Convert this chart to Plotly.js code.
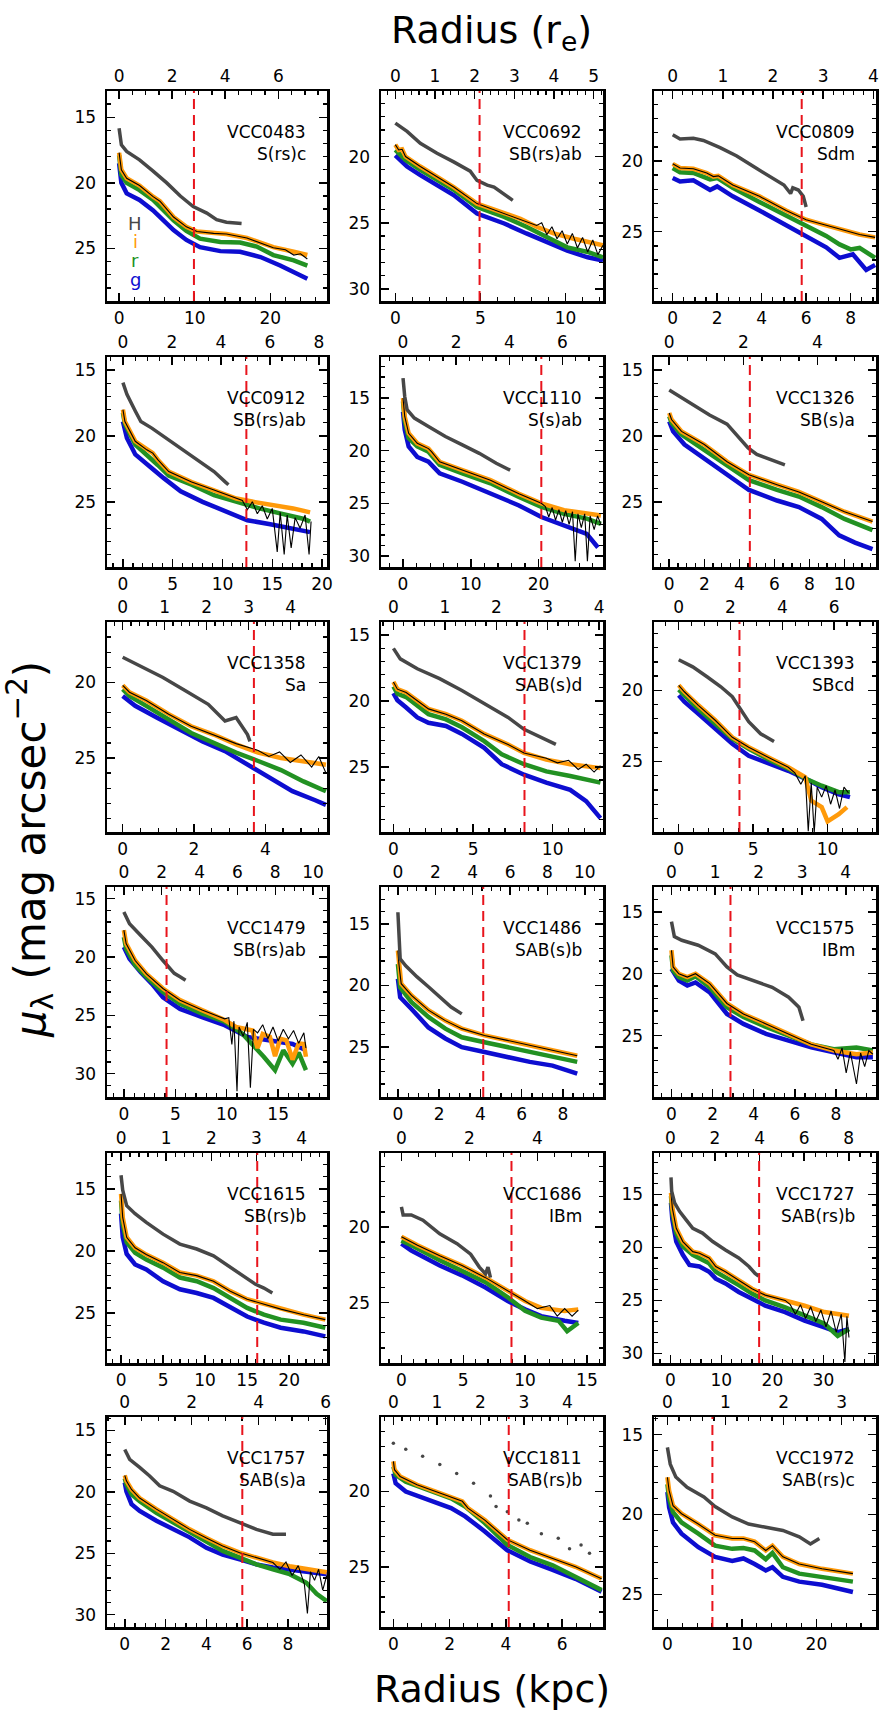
<!DOCTYPE html>
<html><head><meta charset="utf-8">
<script src="https://cdn.plot.ly/plotly-3.0.1.min.js"></script>
<style>html,body{margin:0;padding:0;background:#fff}#chart{width:883px;height:1710px}</style>
</head><body><div id="chart"></div>
<script>
// ---------- DATA (radius in kpc, surface brightness in mag arcsec^-2) ----------
const galaxies = ['VCC0483','VCC0692','VCC0809','VCC0912','VCC1110','VCC1326','VCC1358','VCC1379','VCC1393','VCC1479','VCC1486','VCC1575','VCC1615','VCC1686','VCC1727','VCC1757','VCC1811','VCC1972'];
const types = ['S(rs)c','SB(rs)ab','Sdm','SB(rs)ab','S(s)ab','SB(s)a','Sa','SAB(s)d','SBcd','SB(rs)ab','SAB(s)b','IBm','SB(rs)b','IBm','SAB(rs)b','SAB(s)a','SAB(rs)b','SAB(rs)c'];
const kpcRange = [[-1.6,27.5],[-0.84,12.2],[-0.84,9.14],[-1.6,20.5],[-3.25,29.5],[-0.87,11.8],[-0.44,5.73],[-0.78,13.16],[-1.66,13.25],[-1.64,19.75],[-0.82,9.95],[-0.85,9.95],[-1.67,24.5],[-1.65,16.3],[-3.2,40.3],[-0.87,9.91],[-0.44,7.45],[-1.8,28.0]];
const kpcPerRe = [3.51,2.33,2.255,2.46,3.92,2.115,1.177,3.23,1.74,1.84,0.907,2.12,5.37,2.75,4.37,1.64,1.546,7.8];
const magRange = [[29,13],[30.9,15.05],[29.9,15.05],[29.95,14.0],[31.05,11.1],[29.95,14.0],[29.9,16.0],[29.95,14.0],[29.95,15.2],[32,14],[29.05,12.0],[29.95,13.0],[29.05,12.1],[29.0,15.1],[30.9,11.1],[31.0,13.9],[29.0,15.05],[27.04,13.9]];
const redLineKpc = [9.9,4.95,5.8,12.4,20.4,4.6,3.68,8.23,4.08,4.15,4.14,2.87,16.2,8.9,17.4,5.76,4.1,6.04];
const kpcTickStep = [10,5,2,5,10,2,2,5,5,5,2,2,5,5,10,2,2,10];
const reTickStep = [2,1,1,2,2,2,1,1,2,2,2,1,1,2,2,2,1,1];
const bandLabels = ['H','i','r','g'];

const VCC0483_H=[[0,15.84],[0.3,17.1],[1.0,17.6],[2.7,18.25],[4.5,19.1],[6.3,20.0],[8.1,21.0],[9.8,21.8],[11.6,22.3],[12.9,22.8],[14.2,23.0],[16.2,23.1]];
const VCC0483_i=[[0,17.7],[0.3,19.0],[1.0,19.65],[2.7,20.2],[4.5,21.05],[5.4,21.4],[7.2,22.6],[8.9,23.35],[10.3,23.7],[12.5,23.85],[14.2,23.9],[16.9,24.2],[20.4,24.9],[23.1,25.25],[24.9,25.5]];
const VCC0483_k=[[0,17.7],[0.3,19.0],[1.0,19.65],[2.7,20.2],[4.5,21.05],[5.4,21.4],[7.2,22.6],[8.9,23.35],[10.3,23.7],[12.5,23.85],[14.2,23.9],[16.9,24.2],[20.4,24.95],[22,25.1],[23.1,25.5],[24,25.4],[24.9,25.8]];
const VCC0483_r=[[0,17.9],[0.3,19.4],[1,20.0],[2.7,20.55],[4.5,21.3],[7.2,22.85],[8.9,23.65],[10.7,24.25],[13.4,24.5],[16,24.55],[18.2,24.85],[20.4,25.5],[23.1,25.9],[24.9,26.3]];
const VCC0483_g=[[0,18.5],[0.3,20.0],[1,20.8],[2.7,21.3],[4.5,22.1],[7.2,23.6],[8.9,24.35],[10.7,24.9],[13.4,25.2],[16,25.25],[18.7,25.65],[21.3,26.3],[24.9,27.3]];

const VCC0692_H=[[0,17.47],[0.69,18.1],[1.47,19.0],[2.45,19.75],[3.43,20.4],[4.4,21.1],[4.8,21.8],[5.4,22.15],[5.8,22.3],[6.2,22.65],[6.9,23.3]];
const VCC0692_i=[[0,19.1],[0.2,19.5],[0.4,19.45],[0.6,20.0],[1.47,20.75],[2.45,21.5],[3.43,22.3],[4.8,23.55],[6.4,24.3],[7.35,24.7],[8.3,25.3],[9.3,25.8],[10.5,26.2],[11.3,26.45],[12.2,26.7]];
const VCC0692_k=[[0,19.1],[0.2,19.5],[0.4,19.45],[0.6,20.0],[1.47,20.75],[2.45,21.5],[3.43,22.3],[4.8,23.55],[6.4,24.3],[7.35,24.7],[8.3,25.2],[8.6,25.0],[8.9,25.9],[9.2,25.3],[9.5,26.2],[9.8,25.6],[10.1,26.6],[10.4,25.8],[10.7,26.9],[11.0,26.1],[11.3,27.2],[11.6,26.3],[11.9,27.4],[12.2,26.7]];
const VCC0692_r=[[0,19.5],[0.6,20.25],[1.47,21.0],[2.45,21.8],[3.43,22.5],[4.8,23.8],[6.4,24.55],[7.7,25.3],[8.9,26.1],[10.1,26.85],[11.3,27.2],[12.2,27.6]];
const VCC0692_g=[[0,19.9],[0.69,20.75],[1.47,21.4],[2.45,22.15],[3.43,22.9],[4.8,24.3],[6.4,25.05],[7.7,25.8],[8.9,26.45],[10.1,27.1],[11.3,27.6],[12.2,27.85]];

const VCC0809_H=[[0,18.15],[0.33,18.44],[0.93,18.4],[1.38,18.55],[2.13,19.05],[2.88,19.64],[3.6,20.36],[4.4,21.1],[5.0,21.7],[5.3,22.3],[5.4,21.9],[5.65,22.05],[5.87,22.5],[6.0,23.25]];
const VCC0809_i=[[0,20.2],[0.33,20.5],[0.93,20.55],[1.53,20.85],[1.83,21.1],[2.05,21.05],[2.7,21.7],[3.9,22.5],[5.1,23.5],[6.0,24.15],[6.9,24.55],[7.7,24.9],[8.4,25.2],[9.1,25.4]];
const VCC0809_k=VCC0809_i;
const VCC0809_r=[[0,20.5],[0.33,20.8],[0.93,20.85],[1.68,21.3],[2.0,21.2],[2.7,21.9],[3.9,22.9],[5.1,23.85],[6.0,24.6],[6.9,25.3],[7.5,25.9],[8.0,26.25],[8.4,26.15],[9.1,26.85]];
const VCC0809_g=[[0,21.2],[0.33,21.45],[0.93,21.37],[1.68,22.05],[2.0,21.8],[2.7,22.5],[3.9,23.5],[5.1,24.55],[6.0,25.3],[6.9,26.1],[7.5,26.85],[8.1,26.6],[8.7,27.7],[9.1,27.35]];

const VCC0912_H=[[0,15.95],[0.4,16.84],[1.24,18.1],[1.8,18.9],[2.9,19.4],[4.6,20.3],[6.3,21.2],[8.0,22.1],[9.15,22.7],[10.3,23.5],[10.6,23.7]];
const VCC0912_i=[[0,18.0],[0.2,18.9],[1.24,20.4],[2.4,21.05],[3.0,21.3],[3.5,21.8],[4.6,22.7],[6.9,23.5],[9.15,24.1],[11.4,24.75],[13.1,25.0],[15.4,25.25],[17.1,25.5],[18.8,25.8]];
const VCC0912_k=[[0,18.0],[0.2,18.9],[1.24,20.4],[2.4,21.05],[3.0,21.3],[3.5,21.8],[4.6,22.7],[6.9,23.5],[9.15,24.1],[11.4,24.75],[12,24.9],[12.5,25.6],[13,25.0],[13.5,25.9],[14,25.3],[14.5,26.3],[15,25.5],[15.5,28.8],[15.8,25.8],[16.2,29.0],[16.5,26.0],[16.9,28.5],[17.3,26.2],[17.8,27.0],[18.3,26.0],[18.7,29.0],[18.9,26.5]];
const VCC0912_r=[[0,18.25],[0.2,19.1],[1.24,20.65],[2.4,21.4],[2.9,21.8],[3.5,22.2],[4.6,23.0],[6.9,23.7],[9.15,24.5],[11.4,25.0],[13.7,25.5],[15.9,25.9],[18.2,26.3],[18.8,26.5]];
const VCC0912_g=[[0,18.9],[0.4,20.15],[1.24,21.4],[2.4,22.2],[2.9,22.45],[4.1,23.2],[5.8,24.2],[8.0,25.0],[10.3,25.75],[12.5,26.4],[14.8,26.7],[17.1,27.0],[18.8,27.3]];

const VCC1110_H=[[0,13.1],[0.25,14.85],[0.6,16.1],[1.67,16.9],[3.75,17.7],[6.25,18.65],[8.75,19.45],[11.25,20.25],[13.75,21.2],[15.8,21.85]];
const VCC1110_i=[[0,15.0],[0.25,16.75],[0.83,18.35],[2.1,19.3],[3.75,19.8],[4.2,20.1],[5.4,21.05],[8.75,21.85],[12.9,22.8],[17.1,24.1],[20.4,25.0],[23.75,25.65],[27.1,26.0],[29.2,26.15]];
const VCC1110_k=[[0,15.0],[0.25,16.75],[0.83,18.35],[2.1,19.3],[3.75,19.8],[4.2,20.1],[5.4,21.05],[8.75,21.85],[12.9,22.8],[17.1,24.1],[20.4,25.0],[21,25.3],[21.5,26.3],[22,25.4],[22.5,26.6],[23,25.6],[23.5,26.8],[24,25.7],[24.5,27.0],[25,25.8],[25.4,30.5],[25.8,26.0],[26.3,27.3],[26.8,26.0],[27.2,30.5],[27.6,26.2],[28.2,27.5],[28.7,26.2],[29.2,27.0]];
const VCC1110_r=[[0,15.3],[0.25,17.2],[0.83,18.8],[2.1,19.6],[3.75,20.1],[5.4,21.35],[8.75,22.15],[12.9,23.1],[17.1,24.4],[20.4,25.35],[23.75,26.0],[27.1,26.45],[29.2,26.95]];
const VCC1110_g=[[0,16.3],[0.25,18.0],[0.83,19.6],[2.1,20.6],[3.75,21.05],[5.4,22.15],[8.75,22.95],[12.9,24.05],[17.1,25.2],[20.4,26.3],[23.75,27.1],[27.1,27.9],[28.75,29.2]];

const VCC1326_H=[[0,16.5],[1.0,17.35],[2.3,18.4],[3.3,19.1],[3.9,20.0],[4.5,20.9],[5.0,21.4],[5.8,21.8],[6.6,22.2]];
const VCC1326_i=[[0,18.25],[0.13,18.75],[0.7,19.65],[2.0,20.65],[3.3,21.95],[4.55,22.95],[6.15,23.7],[7.4,24.25],[8.7,25.0],[10.0,25.75],[11.6,26.5]];
const VCC1326_k=VCC1326_i;
const VCC1326_r=[[0,18.5],[0.13,19.0],[0.7,19.9],[2.0,21.05],[3.3,22.3],[4.55,23.35],[6.15,24.1],[7.4,24.6],[8.7,25.4],[10.0,26.3],[11.6,27.15]];
const VCC1326_g=[[0,18.9],[0.22,19.65],[0.87,20.65],[2.0,21.7],[3.3,22.95],[4.55,24.1],[6.15,24.9],[7.4,25.4],[8.7,26.3],[9.7,27.55],[10.6,28.1],[11.6,28.6]];

const VCC1358_H=[[0,18.33],[0.5,18.9],[1.13,19.67],[1.76,20.55],[2.4,21.45],[2.87,22.55],[3.18,22.33],[3.5,23.45],[3.57,23.9]];
const VCC1358_i=[[0,20.2],[0.19,20.65],[0.66,21.2],[1.29,22.1],[1.92,22.9],[2.55,23.45],[3.18,24.1],[3.8,24.65],[4.44,25.0],[5.07,25.2],[5.7,25.45]];
const VCC1358_k=[[0,20.2],[0.19,20.65],[0.66,21.2],[1.29,22.1],[1.92,22.9],[2.55,23.45],[3.18,24.05],[3.8,24.5],[4.1,24.9],[4.4,24.6],[4.7,25.3],[5.0,24.8],[5.3,25.6],[5.5,24.9],[5.7,26.0]];
const VCC1358_r=[[0,20.45],[0.19,20.9],[0.66,21.55],[1.29,22.45],[1.92,23.35],[2.55,24.0],[3.18,24.65],[3.8,25.2],[4.44,25.8],[5.07,26.55],[5.7,27.2]];
const VCC1358_g=[[0,20.9],[0.35,21.55],[0.98,22.35],[1.6,23.1],[2.24,23.9],[2.87,24.55],[3.5,25.45],[4.13,26.35],[4.76,27.2],[5.4,27.8],[5.7,28.1]];

const VCC1379_H=[[0,16.0],[0.43,16.8],[1.5,17.55],[2.9,18.3],[4.3,19.2],[5.7,20.2],[7.2,21.25],[8.2,22.15],[9.3,22.8],[10.2,23.3]];
const VCC1379_i=[[0,18.55],[0.25,19.1],[0.8,19.35],[1.5,20.0],[2.2,20.6],[3.3,21.0],[4.3,21.5],[5.7,22.5],[7.2,23.3],[8.2,23.95],[9.6,24.45],[11.1,24.8],[13.0,25.1]];
const VCC1379_k=[[0,18.55],[0.25,19.1],[0.8,19.35],[1.5,20.0],[2.2,20.6],[3.3,21.0],[4.3,21.5],[5.7,22.5],[7.2,23.3],[8.2,23.95],[9.6,24.35],[10.3,24.7],[11.0,24.5],[11.6,25.2],[12.1,24.8],[12.6,25.4],[13.0,24.9]];
const VCC1379_r=[[0,18.9],[0.25,19.45],[0.8,19.7],[1.5,20.35],[2.2,21.0],[3.3,21.4],[4.3,22.0],[5.7,23.05],[6.8,24.05],[8.2,24.8],[9.6,25.35],[11.1,25.7],[13.0,26.2]];
const VCC1379_g=[[0,19.4],[0.25,19.95],[0.8,20.5],[1.5,21.25],[2.2,21.65],[3.3,21.9],[4.3,22.5],[5.7,23.55],[6.8,24.8],[8.2,25.6],[9.6,26.2],[11.1,26.75],[12.1,27.6],[13.0,28.9]];

const VCC1393_H=[[0,17.85],[0.94,18.35],[1.9,19.05],[2.83,19.75],[3.6,20.45],[4.34,21.65],[4.7,22.2],[5.5,23.05],[6.4,23.6]];
const VCC1393_i=[[0,19.65],[0.38,20.1],[1.32,21.05],[2.45,22.1],[3.6,23.3],[4.7,24.0],[6.2,24.8],[7.36,25.4],[8.5,26.1],[8.9,27.75],[9.6,28.2],[10.0,29.2],[10.75,28.7],[11.3,28.2]];
const VCC1393_k=[[0,19.65],[0.38,20.1],[1.32,21.05],[2.45,22.1],[3.6,23.3],[4.7,24.0],[6.2,24.8],[7.36,25.4],[7.8,25.8],[8.2,26.6],[8.5,26.0],[8.7,29.9],[8.9,26.5],[9.1,30.0],[9.3,26.8],[9.6,27.5],[9.9,26.7],[10.2,28.0],[10.5,27.0],[10.8,28.3],[11.1,26.8],[11.4,27.2]];
const VCC1393_r=[[0,19.95],[0.38,20.35],[1.32,21.3],[2.45,22.35],[3.6,23.4],[4.7,24.1],[6.2,24.95],[7.36,25.5],[8.5,26.2],[9.6,26.7],[10.75,27.15],[11.5,27.15]];
const VCC1393_g=[[0,20.35],[0.38,20.8],[1.32,21.65],[2.45,22.7],[3.6,23.75],[4.7,24.6],[6.2,25.15],[7.36,25.65],[8.5,26.2],[9.6,26.8],[10.75,27.3],[11.5,27.5]];

const VCC1479_H=[[0,16.15],[0.55,17.15],[1.64,18.15],[2.73,19.15],[3.8,20.3],[4.36,20.85],[4.9,21.4],[5.46,21.7],[6.0,22.0]];
const VCC1479_i=[[0,17.7],[0.22,18.85],[1.1,20.3],[2.2,21.45],[3.8,22.7],[5.46,23.7],[7.6,24.55],[9.8,25.4],[10.9,26.0],[12.5,26.3],[13.0,27.8],[13.5,26.6],[14.2,26.85],[14.7,28.5],[15.2,27.0],[15.8,27.15],[16.4,28.8],[17.0,27.4],[17.5,27.45],[17.7,28.55]];
const VCC1479_k=[[0,17.7],[0.22,18.85],[1.1,20.3],[2.2,21.45],[3.8,22.7],[5.46,23.7],[7.6,24.55],[9.8,25.3],[10.2,25.2],[10.5,27.5],[10.7,25.5],[11.0,31.5],[11.2,26.0],[11.6,26.8],[12.0,25.6],[12.3,31.2],[12.6,26.2],[13.0,26.5],[13.5,25.8],[14.0,27.0],[14.5,26.0],[15.0,27.2],[15.5,26.2],[16.0,27.0],[16.5,26.3],[17.0,27.4],[17.5,26.5],[17.7,27.8]];
const VCC1479_r=[[0,18.3],[0.22,19.3],[1.1,20.7],[2.2,21.7],[3.8,23.0],[5.46,24.0],[7.6,24.85],[9.8,25.55],[11.5,26.55],[12.5,27.45],[13.6,28.55],[14.7,29.7],[15.5,28.0],[16.4,29.15],[17.0,28.2],[17.7,29.7]];
const VCC1479_g=[[0,19.15],[0.55,20.15],[1.64,21.3],[2.73,22.3],[3.8,23.45],[5.46,24.45],[7.6,25.15],[9.8,25.85],[12.0,26.85],[14.2,27.15],[16.4,27.45],[17.7,28.0]];

const VCC1486_H=[[0,14.05],[0.05,15.54],[0.11,17.84],[0.38,18.4],[0.93,19.3],[1.48,20.1],[2.03,20.95],[2.58,21.75],[3.1,22.3]];
const VCC1486_i=[[0,17.15],[0.05,18.25],[0.16,19.85],[0.66,20.8],[1.48,22.0],[2.3,22.85],[3.1,23.5],[4.2,24.05],[5.3,24.45],[6.4,24.85],[7.5,25.25],[8.7,25.7]];
const VCC1486_k=VCC1486_i;
const VCC1486_r=[[0,18.25],[0.11,20.15],[0.66,21.35],[1.48,22.55],[2.3,23.5],[3.1,24.2],[4.2,24.6],[5.3,25.0],[6.4,25.4],[7.5,25.8],[8.7,26.2]];
const VCC1486_g=[[0,19.45],[0.11,20.95],[0.66,21.9],[1.48,23.4],[2.3,24.3],[3.1,25.0],[4.2,25.4],[5.3,25.8],[6.4,26.2],[7.5,26.5],[8.7,27.15]];

const VCC1575_H=[[0,15.8],[0.14,17.0],[0.5,17.3],[1.3,17.7],[2.13,18.4],[2.7,19.45],[3.2,20.1],[4.0,20.55],[4.9,21.1],[5.7,21.9],[6.2,22.7],[6.4,23.8]];
const VCC1575_i=[[0,18.1],[0.08,19.45],[0.36,20.0],[0.77,20.27],[1.17,20.0],[1.86,20.8],[2.7,22.4],[3.5,23.25],[4.6,24.05],[5.7,24.85],[6.8,25.7],[7.9,26.2],[9.0,26.5],[9.8,26.35]];
const VCC1575_k=[[0,18.1],[0.08,19.45],[0.36,20.0],[0.77,20.27],[1.17,20.0],[1.86,20.8],[2.7,22.4],[3.5,23.25],[4.6,24.05],[5.7,24.85],[6.8,25.7],[7.9,26.2],[8.1,26.9],[8.3,26.0],[8.5,28.0],[8.7,26.3],[9.0,28.9],[9.2,26.4],[9.4,27.5],[9.6,26.2],[9.8,26.5]];
const VCC1575_r=[[0,18.5],[0.08,19.75],[0.36,20.27],[0.77,20.55],[1.17,20.2],[1.86,21.1],[2.7,22.7],[3.5,23.5],[4.6,24.3],[5.7,25.0],[6.8,25.7],[7.9,26.1],[9.0,25.95],[9.8,26.2]];
const VCC1575_g=[[0,19.6],[0.36,20.55],[0.77,20.95],[1.17,20.7],[1.86,21.5],[2.7,23.25],[3.5,24.05],[4.6,24.85],[5.7,25.4],[6.8,25.95],[7.9,26.35],[9.0,26.75],[9.8,26.75]];

const VCC1615_H=[[0,13.9],[0.2,15.1],[0.67,16.35],[1.67,17.0],[3.0,17.7],[5.0,18.65],[7.0,19.45],[9.0,19.85],[11.0,20.4],[13.0,21.35],[15.0,22.3],[16.0,22.7],[17.0,23.0],[18.0,23.4]];
const VCC1615_i=[[0,15.4],[0.2,17.3],[0.67,18.9],[1.67,19.75],[3.0,20.3],[5.0,20.95],[7.0,21.75],[9.0,22.0],[11.0,22.45],[13.0,23.25],[15.0,23.9],[17.0,24.3],[19.0,24.7],[21.7,25.15],[24.3,25.55]];
const VCC1615_k=VCC1615_i;
const VCC1615_r=[[0,15.95],[0.2,17.85],[0.67,19.3],[1.67,20.15],[3.0,20.7],[5.0,21.35],[7.0,22.15],[9.0,22.45],[11.0,23.0],[13.0,23.8],[15.0,24.6],[17.0,25.15],[19.0,25.55],[21.7,25.8],[24.3,26.2]];
const VCC1615_g=[[0,17.0],[0.2,18.9],[0.67,20.25],[1.67,21.1],[3.0,21.5],[5.0,22.45],[7.0,23.1],[9.0,23.4],[11.0,23.8],[13.0,24.6],[15.0,25.3],[17.0,25.8],[19.0,26.2],[21.7,26.5],[24.3,26.9]];

const VCC1686_H=[[0,18.67],[0.14,19.2],[0.8,19.2],[1.74,19.55],[3.1,20.45],[4.5,21.1],[5.6,21.8],[6.3,22.65],[6.8,23.1],[7.0,22.65],[7.2,23.35]];
const VCC1686_i=[[0,20.65],[0.8,21.0],[1.3,21.2],[3.1,21.9],[4.9,22.55],[6.8,23.35],[8.6,24.2],[10.0,24.9],[11.3,25.35],[13.2,25.55],[14.3,25.45]];
const VCC1686_k=[[0,20.65],[0.8,21.0],[1.3,21.2],[3.1,21.9],[4.9,22.55],[6.8,23.35],[8.6,24.2],[10.0,24.9],[11,25.4],[12,25.2],[12.6,25.9],[13.2,25.4],[13.8,25.9],[14.3,25.5]];
const VCC1686_r=[[0,20.9],[0.8,21.2],[3.1,22.2],[4.9,22.9],[6.8,23.65],[8.6,24.65],[10.0,25.55],[11.3,26.0],[12.7,26.2],[13.4,26.9],[14.3,26.35]];
const VCC1686_g=[[0,21.1],[0.8,21.55],[3.1,22.55],[4.9,23.2],[6.8,24.0],[8.6,24.9],[10.0,25.45],[11.3,25.9],[13.2,26.2],[14.3,26.35]];

const VCC1727_H=[[0.13,13.4],[0.26,14.7],[0.84,15.8],[1.8,16.6],[3.1,17.4],[4.4,18.2],[6.3,18.65],[8.3,19.45],[10.8,20.25],[13.4,21.0],[15.4,21.8],[16.6,22.45],[17.3,22.7]];
const VCC1727_i=[[0.13,14.85],[0.4,16.3],[1.16,18.2],[2.45,19.45],[4.4,20.4],[5.7,20.55],[7.6,21.0],[8.9,21.8],[10.8,22.3],[13.4,23.1],[16.0,23.9],[18.6,24.5],[22.5,25.0],[26.3,25.5],[30.2,26.1],[32.8,26.3],[35.0,26.45]];
const VCC1727_k=[[0.13,14.85],[0.4,16.3],[1.16,18.2],[2.45,19.45],[4.4,20.4],[5.7,20.55],[7.6,21.0],[8.9,21.8],[10.8,22.3],[13.4,23.1],[16.0,23.9],[18.6,24.5],[22.5,25.0],[23.5,25.4],[24.5,26.3],[25.5,25.4],[26.5,26.7],[27.5,25.6],[28.5,27.0],[29.5,25.9],[30.5,27.5],[31.5,26.0],[32.5,28.0],[33.5,26.3],[34.2,30.8],[34.6,26.5],[35.0,28.5]];
const VCC1727_r=[[0.13,15.15],[0.4,16.75],[1.16,18.65],[2.45,19.9],[4.4,20.7],[5.7,21.0],[7.6,21.5],[8.9,22.3],[10.8,22.8],[13.4,23.55],[16.0,24.35],[18.6,25.0],[22.5,25.65],[26.3,26.45],[30.2,27.2],[32.8,28.35],[35.0,27.7]];
const VCC1727_g=[[0.13,15.8],[0.4,17.4],[1.16,19.45],[2.45,20.7],[3.75,21.65],[5.7,21.8],[7.6,22.3],[8.9,22.95],[10.8,23.4],[13.4,24.2],[16.0,24.85],[18.6,25.5],[22.5,26.1],[26.3,26.9],[30.2,27.55],[32.8,28.0],[35.0,27.7]];

const VCC1757_H=[[0,16.55],[0.24,17.35],[0.73,18.0],[1.22,18.7],[1.71,19.5],[2.37,19.95],[3.18,20.75],[4.0,21.3],[4.8,21.95],[5.63,22.5],[6.45,23.05],[7.26,23.45],[7.9,23.45]];
const VCC1757_i=[[0,18.65],[0.08,19.1],[0.33,19.8],[0.73,20.5],[1.55,21.4],[2.37,22.25],[3.18,23.05],[4.0,23.75],[4.8,24.4],[5.63,24.95],[6.45,25.35],[7.26,25.75],[8.08,26.05],[8.9,26.3],[9.9,26.55]];
const VCC1757_k=[[0,18.65],[0.08,19.1],[0.33,19.8],[0.73,20.5],[1.55,21.4],[2.37,22.25],[3.18,23.05],[4.0,23.75],[4.8,24.4],[5.63,24.95],[6.45,25.35],[7.26,25.75],[7.6,26.3],[7.9,25.7],[8.2,26.8],[8.5,26.0],[8.8,27.5],[8.95,29.9],[9.1,26.5],[9.3,27.2],[9.5,26.3],[9.7,28.0],[9.9,26.8]];
const VCC1757_r=[[0,18.9],[0.08,19.4],[0.33,20.2],[0.73,20.75],[1.55,21.7],[2.37,22.5],[3.18,23.3],[4.0,24.1],[4.8,24.8],[5.63,25.35],[6.45,25.9],[7.26,26.3],[8.08,26.7],[8.9,27.4],[9.4,28.3],[9.9,28.9]];
const VCC1757_g=[[0,19.25],[0.08,19.95],[0.33,21.0],[0.73,21.55],[1.55,22.35],[2.37,23.05],[3.18,23.7],[4.0,24.55],[4.8,25.1],[5.63,25.5],[6.45,25.9],[7.26,26.15],[8.08,26.3],[8.9,26.45],[9.9,26.7]];

const VCC1811_H=[[0,16.8],[0.44,17.2],[1.04,17.65],[1.65,18.2],[2.25,18.8],[2.85,19.45],[3.45,20.3],[3.65,21.0],[4.05,21.35],[4.46,21.9],[4.76,22.1],[5.26,22.8],[5.86,23.1],[6.26,23.8],[6.67,23.55],[6.97,24.1]];
const VCC1811_i=[[0,18.0],[0.04,18.55],[0.24,19.0],[0.84,19.55],[1.65,20.1],[2.45,20.65],[2.65,21.1],[3.25,21.9],[4.05,23.2],[4.86,23.9],[5.66,24.45],[6.47,25.0],[7.4,25.8]];
const VCC1811_k=VCC1811_i;
const VCC1811_r=[[0,18.35],[0.08,18.9],[0.44,19.35],[1.24,19.9],[2.05,20.45],[2.55,21.0],[3.25,22.1],[4.05,23.55],[4.86,24.35],[5.66,24.9],[6.47,25.65],[7.4,26.55]];
const VCC1811_g=[[0,18.8],[0.08,19.45],[0.44,20.0],[1.24,20.55],[2.05,21.1],[2.55,21.65],[3.25,22.65],[4.05,23.9],[4.86,24.65],[5.66,25.2],[6.47,25.8],[7.4,26.65]];

const VCC1972_H=[[0,15.8],[0.38,16.85],[1.13,17.65],[2.64,18.3],[4.9,18.9],[6.4,19.5],[8.7,20.15],[10.9,20.6],[13.2,20.8],[15.5,21.0],[17.7,21.4],[19.2,21.85],[20.4,21.5]];
const VCC1972_i=[[0,17.67],[0.23,18.5],[0.75,19.45],[1.9,19.95],[4.15,20.6],[6.4,21.3],[8.7,21.5],[10.2,21.5],[11.7,21.7],[13.2,22.25],[14.1,21.95],[15.5,22.65],[17.7,23.1],[20.75,23.4],[24.9,23.7]];
const VCC1972_k=VCC1972_i;
const VCC1972_r=[[0,18.1],[0.23,19.0],[0.75,19.85],[1.9,20.5],[4.15,21.2],[6.4,21.95],[8.7,22.15],[10.2,22.1],[11.7,22.25],[13.2,22.8],[14.1,22.4],[15.5,23.3],[17.7,23.7],[20.75,23.9],[24.9,24.2]];
const VCC1972_g=[[0,18.6],[0.23,19.55],[0.75,20.5],[1.9,21.2],[4.15,22.05],[6.4,22.65],[8.7,22.9],[10.2,22.75],[11.7,23.1],[13.2,23.5],[14.1,23.3],[15.5,23.9],[17.7,24.2],[20.75,24.4],[24.9,24.85]];

// ---------- assembly ----------
const series = [
 [VCC0483_H,VCC0483_i,VCC0483_k,VCC0483_r,VCC0483_g],
 [VCC0692_H,VCC0692_i,VCC0692_k,VCC0692_r,VCC0692_g],
 [VCC0809_H,VCC0809_i,VCC0809_k,VCC0809_r,VCC0809_g],
 [VCC0912_H,VCC0912_i,VCC0912_k,VCC0912_r,VCC0912_g],
 [VCC1110_H,VCC1110_i,VCC1110_k,VCC1110_r,VCC1110_g],
 [VCC1326_H,VCC1326_i,VCC1326_k,VCC1326_r,VCC1326_g],
 [VCC1358_H,VCC1358_i,VCC1358_k,VCC1358_r,VCC1358_g],
 [VCC1379_H,VCC1379_i,VCC1379_k,VCC1379_r,VCC1379_g],
 [VCC1393_H,VCC1393_i,VCC1393_k,VCC1393_r,VCC1393_g],
 [VCC1479_H,VCC1479_i,VCC1479_k,VCC1479_r,VCC1479_g],
 [VCC1486_H,VCC1486_i,VCC1486_k,VCC1486_r,VCC1486_g],
 [VCC1575_H,VCC1575_i,VCC1575_k,VCC1575_r,VCC1575_g],
 [VCC1615_H,VCC1615_i,VCC1615_k,VCC1615_r,VCC1615_g],
 [VCC1686_H,VCC1686_i,VCC1686_k,VCC1686_r,VCC1686_g],
 [VCC1727_H,VCC1727_i,VCC1727_k,VCC1727_r,VCC1727_g],
 [VCC1757_H,VCC1757_i,VCC1757_k,VCC1757_r,VCC1757_g],
 [VCC1811_H,VCC1811_i,VCC1811_k,VCC1811_r,VCC1811_g],
 [VCC1972_H,VCC1972_i,VCC1972_k,VCC1972_r,VCC1972_g]
];

const W=883, HT=1710;
const colPx=[[107,327],[381,603],[654,876]];
const rowPx=[91,357,622,887,1153,1417];
const panelH=210;
const FONT='DejaVu Sans';
const COL={H:'#474747',i:'#ff9a0a',r:'#229122',g:'#0d0dd0',k:'#000000',red:'#e8141c'};
function minorOf(d){return d===10?2:d===5?1:d===2?0.5:0.2;}

const traces=[];
const layout={width:W,height:HT,margin:{l:0,r:0,t:0,b:0},showlegend:false,
  paper_bgcolor:'#ffffff',plot_bgcolor:'rgba(0,0,0,0)',
  font:{family:FONT,size:17,color:'#000'},annotations:[],shapes:[]};

series.forEach((s,idx)=>{
  const n=idx+1, id=(n===1?'':String(n)), tid=String(n+18);
  const c=idx%3, r=Math.floor(idx/3);
  const xd=[colPx[c][0]/W, colPx[c][1]/W];
  const yd=[1-(rowPx[r]+panelH)/HT, 1-rowPx[r]/HT];
  const common={showgrid:false,zeroline:false,showline:true,linecolor:'#000',linewidth:2.5,
    ticks:'inside',ticklen:8,tickwidth:1.5,tickcolor:'#000',
    tickfont:{family:FONT,size:17,color:'#000'},tick0:0,fixedrange:true};
  const minorCfg=d=>({ticks:'inside',ticklen:4,tickwidth:1.3,tickcolor:'#000',dtick:minorOf(d),tick0:0});
  layout['xaxis'+id]=Object.assign({},common,{domain:xd,anchor:'y'+id,range:kpcRange[idx],
    dtick:kpcTickStep[idx],minor:minorCfg(kpcTickStep[idx]),ticklabelstandoff:0});
  layout['yaxis'+id]=Object.assign({},common,{domain:yd,anchor:'x'+id,range:magRange[idx],
    dtick:5,mirror:'ticks',ticklabelstandoff:5,
    minor:{ticks:'inside',ticklen:4,tickwidth:1.3,tickcolor:'#000',dtick:1,tick0:0}});
  const re=kpcRange[idx].map(v=>v/kpcPerRe[idx]);
  layout['xaxis'+tid]=Object.assign({},common,{overlaying:'x'+id,side:'top',anchor:'y'+id,range:re,
    dtick:reTickStep[idx],minor:minorCfg(reTickStep[idx]),ticklabelstandoff:0});

  const [H,I,K,R,G]=s;
  const mk=(pts,color,width,name)=>({x:pts.map(p=>p[0]),y:pts.map(p=>p[1]),xaxis:'x'+id,yaxis:'y'+id,
    type:'scatter',mode:'lines',line:{color:color,width:width},hoverinfo:'skip',name:name});
  traces.push(mk(G,COL.g,4.5,'g'));
  traces.push(mk(R,COL.r,4.5,'r'));
  traces.push(mk(I,COL.i,4.5,'i'));
  traces.push(mk(K,COL.k,1.1,'i line'));
  if(idx===16){
    traces.push({x:H.map(p=>p[0]),y:H.map(p=>p[1]),xaxis:'x'+id,yaxis:'y'+id,type:'scatter',mode:'markers',
      marker:{color:COL.H,size:3.5},hoverinfo:'skip',name:'H'});
  } else {
    traces.push(mk(H,COL.H,3.5,'H'));
  }
  // invisible marker so the top (r_e) axis is rendered
  traces.push({x:[re[0]],y:[magRange[idx][0]],xaxis:'x'+tid,yaxis:'y'+id,type:'scatter',mode:'markers',
    marker:{opacity:0,size:1},hoverinfo:'skip'});

  layout.shapes.push({type:'line',xref:'x'+id,yref:'y'+id+' domain',x0:redLineKpc[idx],x1:redLineKpc[idx],
    y0:0,y1:1,line:{color:COL.red,width:2,dash:'10px,6px'}});

  const rx=(colPx[c][1]-19)/W;
  layout.annotations.push({xref:'paper',yref:'paper',x:rx,y:1-(rowPx[r]+41)/HT,text:galaxies[idx],
    xanchor:'right',yanchor:'middle',showarrow:false,font:{family:FONT,size:17,color:'#000'}});
  layout.annotations.push({xref:'paper',yref:'paper',x:rx,y:1-(rowPx[r]+63)/HT,text:types[idx],
    xanchor:'right',yanchor:'middle',showarrow:false,font:{family:FONT,size:17,color:'#000'}});
});

// band legend in first panel
const legColors=[COL.H,COL.i,COL.r,COL.g];
const legY=[223,241,260,279];
bandLabels.forEach((b,j)=>{
  layout.annotations.push({xref:'paper',yref:'paper',x:135/W,y:1-legY[j]/HT,text:b,showarrow:false,
    xanchor:'center',yanchor:'middle',font:{family:FONT,size:18,color:legColors[j]}});
});

// global titles
layout.annotations.push({xref:'paper',yref:'paper',x:492/W,y:1-33/HT,text:'Radius (r<sub>e</sub>)',showarrow:false,
  xanchor:'center',yanchor:'middle',font:{family:FONT,size:38,color:'#000'}});
layout.annotations.push({xref:'paper',yref:'paper',x:492/W,y:1-1689/HT,text:'Radius (kpc)',showarrow:false,
  xanchor:'center',yanchor:'middle',font:{family:FONT,size:38,color:'#000'}});
layout.annotations.push({xref:'paper',yref:'paper',x:30/W,y:1-850/HT,
  text:'<i>μ</i><sub>λ</sub> (mag arcsec<sup>−2</sup>)',showarrow:false,textangle:-90,
  xanchor:'center',yanchor:'middle',font:{family:FONT,size:42,color:'#000'}});

Plotly.newPlot('chart',traces,layout,{staticPlot:true,displayModeBar:false});
</script></body></html>
